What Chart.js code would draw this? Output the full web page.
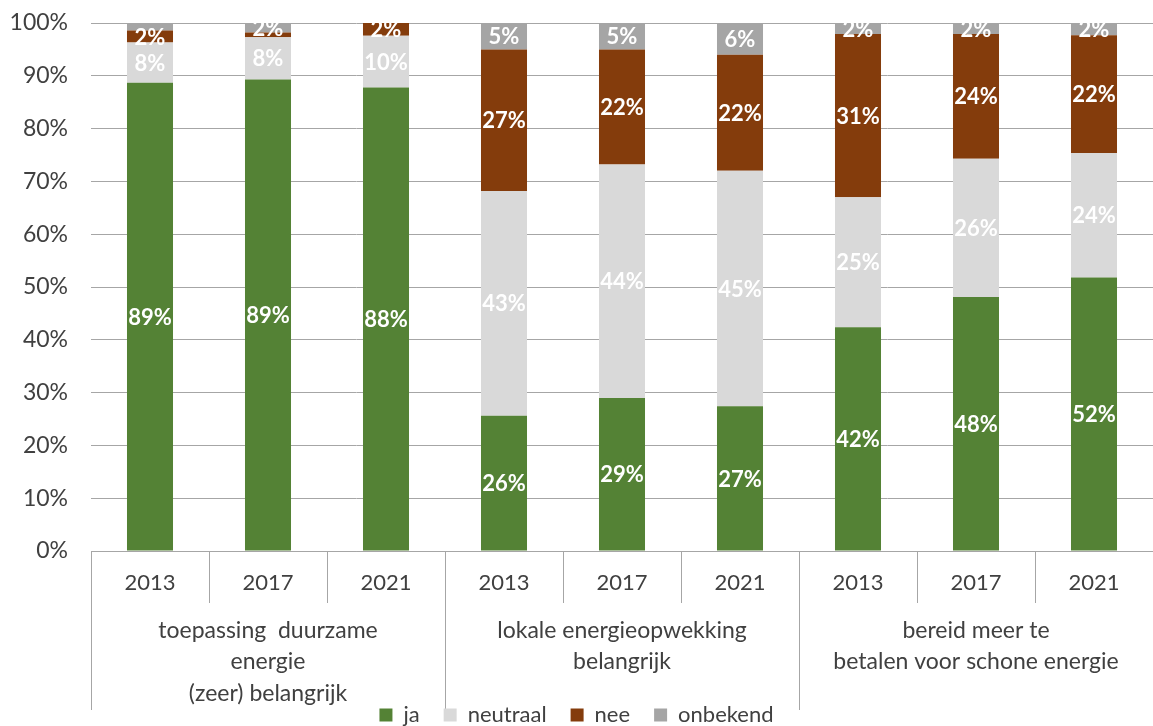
<!DOCTYPE html>
<html><head><meta charset="utf-8">
<script src="https://cdn.jsdelivr.net/npm/chart.js@4/dist/chart.umd.min.js"></script>
<style>html,body{margin:0;padding:0;background:#fff}</style>
</head><body>
<canvas id="c" width="1153" height="726"></canvas>
<script>
const years = ['2013','2017','2021','2013','2017','2021','2013','2017','2021'];
const groups = [['toepassing  duurzame','energie','(zeer) belangrijk'],['lokale energieopwekking','belangrijk'],['bereid meer te','betalen voor schone energie']];
const seriesNames = ['ja','neutraal','nee','onbekend'];
const ja       = [88.7, 89.3, 87.8, 25.6, 29.0, 27.4, 42.4, 48.1, 51.8];
const neutraal = [7.6, 8.0, 9.8, 42.6, 44.2, 44.6, 24.6, 26.2, 23.6];
const nee      = [2.3, 0.9, 2.4, 26.8, 21.8, 22.0, 30.9, 23.6, 22.3];
const onbekend = [1.4, 1.8, 0.0, 5.0, 5.0, 6.0, 2.1, 2.1, 2.3];
const yTickValues = [0,10,20,30,40,50,60,70,80,90,100];
const colors = ['#548235','#d9d9d9','#843c0c','#a5a5a5'];

const FONT = 'Lato';
const TXT = '#404040';
const GRID = '#a6a6a6';
Chart.defaults.font.family = FONT;

const labelPlugin = {
  id: 'barLabels',
  afterDatasetsDraw(chart) {
    const ctx = chart.ctx;
    ctx.save();
    ctx.font = 'bold 22px ' + FONT;
    ctx.fillStyle = '#ffffff';
    ctx.textAlign = 'center';
    ctx.textBaseline = 'middle';
    chart.data.datasets.forEach((ds, i) => {
      const meta = chart.getDatasetMeta(i);
      meta.data.forEach((el, j) => {
        const r = Math.round(ds.data[j]);
        if (r < 2) return;
        const p = el.getProps(['x','y','base'], true);
        ctx.fillText(r + '%', p.x, (p.y + p.base) / 2 + 1);
      });
    });
    ctx.restore();
  }
};

const seriesData = [ja, neutraal, nee, onbekend];
new Chart(document.getElementById('c'), {
  type: 'bar',
  data: {
    labels: years,
    datasets: seriesNames.map((n, i) => ({
      label: n, data: seriesData[i], backgroundColor: colors[i],
      borderWidth: 0, categoryPercentage: 1, barPercentage: 0.39, xAxisID: 'x', yAxisID: 'y'
    }))
  },
  options: {
    responsive: false, animation: false, devicePixelRatio: 1,
    layout: { padding: { top: 23, right: 0, left: 0, bottom: -10 } },
    plugins: {
      tooltip: { enabled: false },
      legend: {
        position: 'bottom',
        labels: { boxWidth: 13, boxHeight: 13, padding: 24, color: TXT, font: { family: FONT, size: 22 } }
      }
    },
    scales: {
      x: {
        stacked: true, offset: true, weight: 0,
        grid: { drawOnChartArea: false, offset: true, tickLength: 52, color: GRID },
        border: { display: true, color: GRID },
        ticks: { color: TXT, font: { family: FONT, size: 22 }, padding: -33, maxRotation: 0, autoSkip: false },
        afterFit(s) { s.height = 52; }
      },
      x2: {
        type: 'category', labels: groups, position: 'bottom', offset: true, weight: 1,
        grid: { drawOnChartArea: false, offset: true, tickLength: 107, color: GRID },
        border: { display: false },
        ticks: { color: TXT, font: { family: FONT, size: 23, lineHeight: 1.36 }, padding: -95, maxRotation: 0, autoSkip: false },
        afterFit(s) { s.height = 77; s._computeLabelArea = () => undefined; }
      },
      y: {
        stacked: true, min: 0, max: 100,
        afterBuildTicks(s) { s.ticks = yTickValues.map(v => ({ value: v })); },
        grid: { color: GRID, drawTicks: false },
        border: { display: false },
        ticks: { color: TXT, font: { family: FONT, size: 23 }, padding: 23, callback: v => v + '%' },
        afterFit(s) { s.width = 91; s.paddingTop = 0; s.paddingBottom = 0; }
      }
    }
  },
  plugins: [labelPlugin]
});
</script>
</body></html>
